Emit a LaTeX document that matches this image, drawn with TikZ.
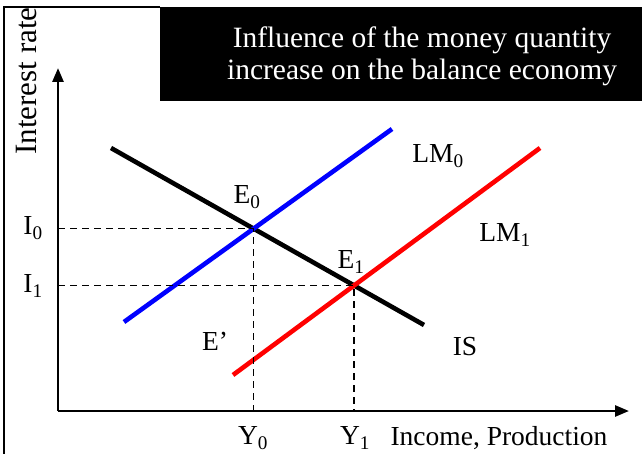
\documentclass[tikz,border=0pt]{standalone}
\usepackage{fontspec}
\setmainfont{Liberation Serif}
\usepackage{tikz}
\usetikzlibrary{arrows.meta, intersections}
\usepackage{xcolor}
\definecolor{lmzeroblue}{RGB}{  0,  0,255}
\definecolor{lmonered}  {RGB}{255,  0,  0}
\tikzset{
  axis/.style       = {-{Triangle[length=14pt, width=11pt]}, line width=2.6pt},
  is line/.style    = {black, line width=4.6pt},
  lm line/.style    = {line width=4.6pt},
  guide/.style      = {black, line width=1.4pt, dash pattern=on 7pt off 5pt},
  lbl/.style        = {font=\fontsize{27.5}{29}\selectfont, inner sep=1pt},
  title text/.style = {white, align=center, font=\fontsize{29.5}{32}\selectfont},
}

\begin{document}
\begin{tikzpicture}[x=1pt, y=-1pt]

  \useasboundingbox (0,0) rectangle (642,454);

  % ── frame and title ───────────────────────────────────────────────────────
  \draw[line width=1.4pt] (4,454) -- (4,7) -- (160,7);
  \fill[black] (160,7) rectangle (642,101);
  \node[title text] (title) at (422,56)
    {Influence of the money quantity\\increase on the balance economy};

  % ── axes ──────────────────────────────────────────────────────────────────
  \coordinate (origin) at (58,411);
  \draw[axis] (origin) -- (58,68);
  \draw[axis] (origin) -- (629,411);
  \node[lbl, rotate=90, font=\fontsize{31}{32}\selectfont] (ylabel) at (27,81)
    {Interest rate};
  \node[lbl] (xlabel) at (499,438) {Income, Production};

  % ── curves ────────────────────────────────────────────────────────────────
  \draw[is line, name path=is]        (111,148) -- (424,325);
  \draw[lm line, lmzeroblue, name path=lmzero] (124,322) -- (392,129);
  \draw[lm line, lmonered, name path=lmone]    (233,375) -- (540,148);

  % equilibria
  \path[name intersections={of=is and lmzero, by=ezero}];
  \path[name intersections={of=is and lmone,  by=eone}];

  % guides to the axes
  \draw[guide] (origin |- ezero) -- (ezero) -- (ezero |- origin);
  \draw[guide] (origin |- eone)  -- (eone)  -- (eone |- origin);

  % ── labels ────────────────────────────────────────────────────────────────
  \node[lbl] (ezerolbl) at (247,197) {E\textsubscript{0}};
  \node[lbl] (eonelbl)  at (351,262) {E\textsubscript{1}};
  \node[lbl] (eprime)   at (215,341) {E’};
  \node[lbl] (lmzerolbl) at (438,156) {LM\textsubscript{0}};
  \node[lbl] (lmonelbl)  at (505,235) {LM\textsubscript{1}};
  \node[lbl] (islbl)     at (465,347) {IS};
  \node[lbl] (izero) at (33,228) {I\textsubscript{0}};
  \node[lbl] (ione)  at (33,286) {I\textsubscript{1}};
  \node[lbl] (yzero) at (253,438) {Y\textsubscript{0}};
  \node[lbl] (yone)  at (355,438) {Y\textsubscript{1}};

\end{tikzpicture}
\end{document}
